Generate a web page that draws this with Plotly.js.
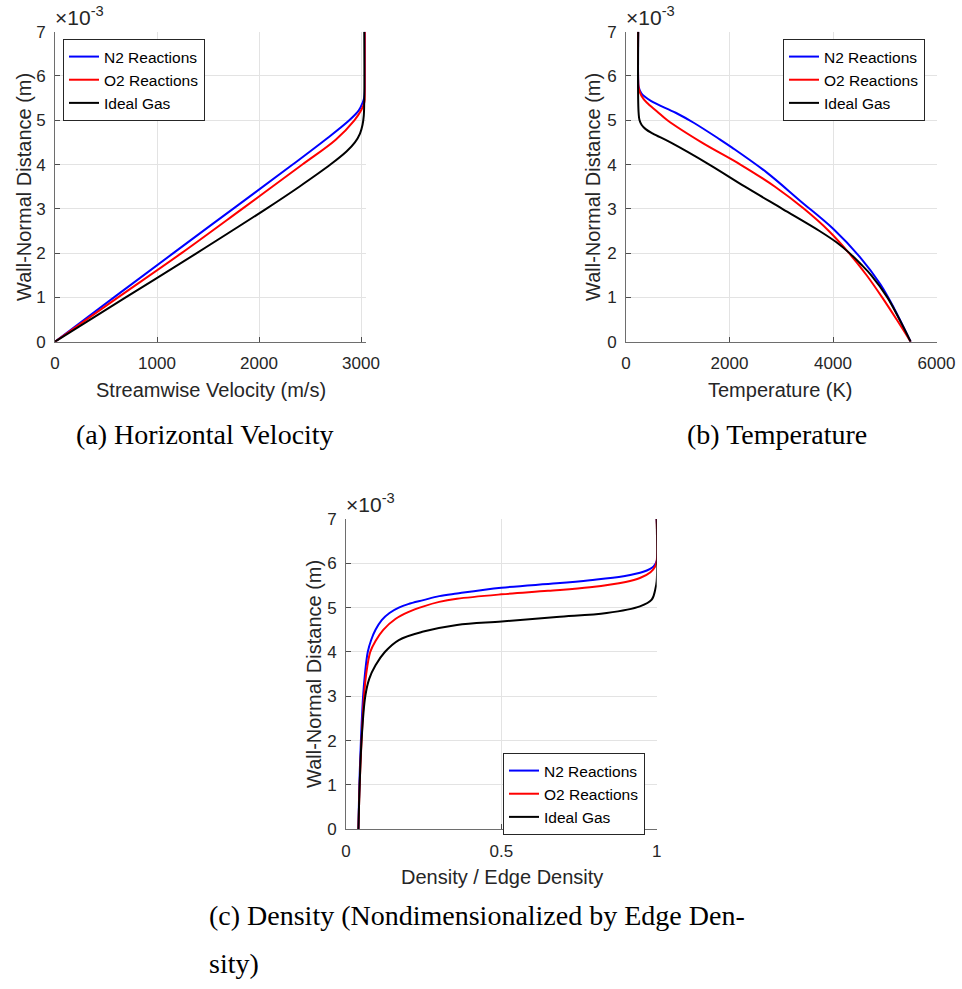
<!DOCTYPE html>
<html>
<head>
<meta charset="utf-8">
<script src="https://cdn.plot.ly/plotly-3.0.1.min.js"></script>
<style>
  html, body { margin: 0; padding: 0; background: #ffffff; }
  #fig { width: 962px; height: 989px; }
</style>
</head>
<body>
<div id="fig"></div>
<script>
// Boundary-layer profiles; wall-normal distance in units of 1e-3 m.
const seriesNames = ['N2 Reactions', 'O2 Reactions', 'Ideal Gas'];
const seriesColors = ['#0000ff', '#ff0000', '#000000'];

// (a) Streamwise velocity (m/s)
const velY_N2 = [0, 1, 2, 3, 4, 4.56, 5.0, 5.23, 5.39, 5.5, 5.65, 7];
const velU_N2 = [0, 578, 1160, 1745, 2330, 2650, 2885, 2980, 3015, 3030, 3038, 3038];
const velY_O2 = [0, 1, 2, 3, 4, 4.56, 5.0, 5.23, 5.4, 5.55, 5.75, 7];
const velU_O2 = [0, 618, 1240, 1835, 2425, 2752, 2935, 3003, 3033, 3043, 3046, 3046];
const velY_IG = [0, 1, 2, 3, 3.5, 4.0, 4.3, 4.5, 4.7, 4.9, 5.1, 5.4, 7];
const velU_IG = [0, 693, 1390, 2070, 2395, 2700, 2860, 2940, 2990, 3015, 3027, 3032, 3032];

// (b) Temperature (K)
const tempY_N2 = [0, 0.768, 1.295, 1.898, 2.538, 3.178, 3.818, 4.383, 4.57, 4.95, 5.17, 5.437, 5.6, 5.75, 5.9, 7];
const tempT_N2 = [5500, 5174, 4916, 4529, 4013, 3368, 2723, 2050, 1810, 1300, 960, 480, 300, 245, 236, 235];
const tempY_O2 = [0, 0.5, 1.0, 1.5, 2.0, 2.5, 3.0, 3.5, 4.0, 4.5, 5.0, 5.2, 5.4, 5.55, 5.7, 5.85, 7];
const tempT_O2 = [5500, 5230, 4950, 4650, 4310, 3920, 3440, 2880, 2210, 1460, 800, 600, 400, 300, 250, 237, 235];
const tempY_IG = [0, 0.5, 1.0, 1.5, 1.75, 2.0, 2.25, 2.5, 3.0, 3.5, 4.0, 4.5, 4.7, 4.8, 4.9, 5.0, 5.2, 7];
const tempT_IG = [5500, 5285, 5050, 4740, 4540, 4320, 4060, 3740, 3020, 2300, 1610, 860, 520, 380, 300, 262, 242, 236];

// (c) Density / edge density
const densY_N2 = [0, 1, 2, 3, 3.5, 4.0, 4.27, 4.5, 4.72, 4.88, 5.0, 5.08, 5.17, 5.26, 5.32, 5.45, 5.55, 5.62, 5.71, 5.81, 5.93, 6.05, 7];
const densR_N2 = [0.040, 0.043, 0.048, 0.055, 0.061, 0.070, 0.081, 0.095, 0.115, 0.140, 0.170, 0.200, 0.249, 0.300, 0.357, 0.500, 0.678, 0.785, 0.893, 0.957, 0.990, 1.0, 1.0];
const densY_O2 = [0, 1, 2, 3, 3.5, 4.0, 4.25, 4.5, 4.75, 4.9, 5.03, 5.13, 5.2, 5.3, 5.38, 5.46, 5.58, 5.67, 5.8, 5.93, 6.05, 7];
const densR_O2 = [0.040, 0.044, 0.050, 0.058, 0.065, 0.078, 0.095, 0.120, 0.160, 0.200, 0.250, 0.300, 0.357, 0.500, 0.650, 0.785, 0.900, 0.946, 0.980, 0.995, 1.0, 1.0];
const densY_IG = [0, 1, 2, 3, 3.4, 3.7, 4.0, 4.27, 4.46, 4.61, 4.69, 4.79, 4.88, 5.03, 5.18, 5.40, 5.6, 7];
const densR_IG = [0.040, 0.044, 0.050, 0.062, 0.075, 0.095, 0.125, 0.170, 0.249, 0.357, 0.501, 0.678, 0.839, 0.946, 0.984, 0.995, 1.0, 1.0];

// Tick labels
const yTicks = [0, 1, 2, 3, 4, 5, 6, 7];
const velTicks = [0, 1000, 2000, 3000];
const tempTicks = [0, 2000, 4000, 6000];
const densTicks = [0, 0.5, 1];
const densTickText = ['0', '0.5', '1'];

const W = 962, H = 989;
const px = v => v / W;
const py = v => 1 - v / H;

const sans = 'Liberation Sans, Arial, Helvetica, sans-serif';
const serif = 'Liberation Serif, Times New Roman, serif';
const ink = '#262626';

function axisBase(extra) {
  return Object.assign({
    showline: true, linecolor: '#6e6e6e', linewidth: 1, mirror: false,
    ticks: 'inside', ticklen: 5, tickwidth: 1, tickcolor: '#4d4d4d',
    showgrid: true, gridcolor: '#e3e3e3', gridwidth: 1,
    zeroline: false, fixedrange: true,
    tickfont: { family: sans, size: 17, color: ink }
  }, extra);
}

function trace(x, y, i, xa, ya, leg) {
  return {
    x: x, y: y, type: 'scatter', mode: 'lines', name: seriesNames[i],
    xaxis: xa, yaxis: ya, legend: leg,
    line: { color: seriesColors[i], width: 2, shape: 'spline', smoothing: 1 }
  };
}

const data = [
  trace(velU_N2, velY_N2, 0, 'x', 'y', 'legend'),
  trace(velU_O2, velY_O2, 1, 'x', 'y', 'legend'),
  trace(velU_IG, velY_IG, 2, 'x', 'y', 'legend'),
  trace(tempT_N2, tempY_N2, 0, 'x2', 'y2', 'legend2'),
  trace(tempT_O2, tempY_O2, 1, 'x2', 'y2', 'legend2'),
  trace(tempT_IG, tempY_IG, 2, 'x2', 'y2', 'legend2'),
  trace(densR_N2, densY_N2, 0, 'x3', 'y3', 'legend3'),
  trace(densR_O2, densY_O2, 1, 'x3', 'y3', 'legend3'),
  trace(densR_IG, densY_IG, 2, 'x3', 'y3', 'legend3')
];

const topDom = [py(341.7), py(31.7)];
const botDom = [py(829.3), py(519)];

function legendBox(x, y) {
  return {
    x: px(x), y: py(y), xanchor: 'left', yanchor: 'top',
    bgcolor: '#ffffff', bordercolor: ink, borderwidth: 1,
    font: { family: sans, size: 15.5, color: '#000000' },
    tracegroupgap: 0, itemwidth: 30
  };
}

function ann(text, x, y, opts) {
  return Object.assign({
    text: text, x: px(x), y: py(y), xref: 'paper', yref: 'paper',
    showarrow: false, xanchor: 'center', yanchor: 'middle',
    font: { family: sans, size: 20, color: ink }
  }, opts || {});
}

const expFont = { family: sans, size: 21, color: ink };
const capFont = { family: serif, size: 28, color: '#000000' };

const layout = {
  width: W, height: H,
  margin: { l: 0, r: 0, t: 0, b: 0 },
  paper_bgcolor: '#ffffff', plot_bgcolor: '#ffffff',
  showlegend: true,
  xaxis: axisBase({ domain: [px(55), px(365.7)], range: [0, 3046], tickvals: velTicks, anchor: 'y', ticklabelstandoff: 6 }),
  yaxis: axisBase({ domain: topDom, range: [0, 7], tickvals: yTicks, anchor: 'x', ticklabelstandoff: 5 }),
  xaxis2: axisBase({ domain: [px(626), px(936.5)], range: [0, 6000], tickvals: tempTicks, anchor: 'y2', ticklabelstandoff: 6 }),
  yaxis2: axisBase({ domain: topDom, range: [0, 7], tickvals: yTicks, anchor: 'x2', ticklabelstandoff: 5 }),
  xaxis3: axisBase({ domain: [px(346), px(656.7)], range: [0, 1], tickvals: densTicks, ticktext: densTickText, anchor: 'y3', ticklabelstandoff: 6 }),
  yaxis3: axisBase({ domain: botDom, range: [0, 7], tickvals: yTicks, anchor: 'x3', ticklabelstandoff: 5 }),
  legend: legendBox(63, 39),
  legend2: legendBox(783, 39),
  legend3: legendBox(503, 753),
  annotations: [
    // exponent labels on the y axes
    ann('×10<sup>-3</sup>', 53, 31, { xanchor: 'left', yanchor: 'bottom', font: expFont }),
    ann('×10<sup>-3</sup>', 624, 31, { xanchor: 'left', yanchor: 'bottom', font: expFont }),
    ann('×10<sup>-3</sup>', 344, 518, { xanchor: 'left', yanchor: 'bottom', font: expFont }),
    // axis titles
    ann('Streamwise Velocity (m/s)', 211, 390),
    ann('Temperature (K)', 780, 390),
    ann('Density / Edge Density', 501.5, 877),
    ann('Wall-Normal Distance (m)', 24, 187, { textangle: -90 }),
    ann('Wall-Normal Distance (m)', 593, 187, { textangle: -90 }),
    ann('Wall-Normal Distance (m)', 314, 674, { textangle: -90 }),
    // sub-figure captions
    ann('(a) Horizontal Velocity', 205, 434, { font: capFont }),
    ann('(b) Temperature', 777, 434, { font: capFont }),
    ann('(c) Density (Nondimensionalized by Edge Den-', 207, 915, { xanchor: 'left', font: capFont }),
    ann('sity)', 207, 963, { xanchor: 'left', font: capFont })
  ]
};

Plotly.newPlot('fig', data, layout, { displayModeBar: false, staticPlot: true });
</script>
</body>
</html>
